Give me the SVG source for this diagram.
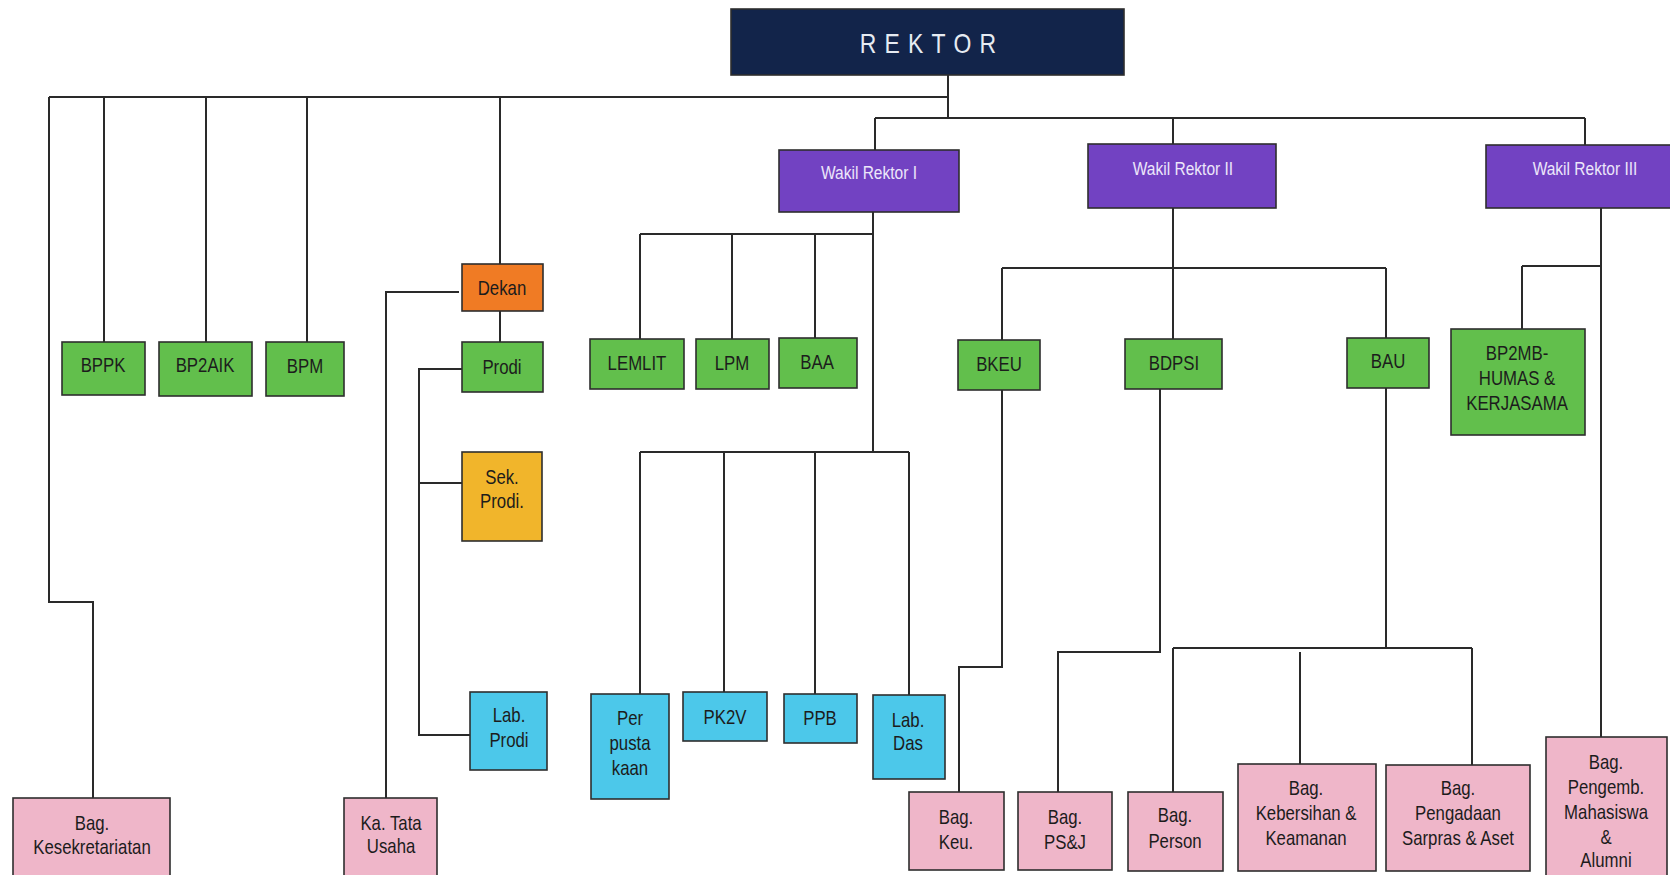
<svg xmlns="http://www.w3.org/2000/svg" width="1670" height="875" viewBox="0 0 1670 875">
<style>
.bx{stroke:#2e2e2e;stroke-width:1.6}
.navy{fill:#12244a}
.pur{fill:#7242c2}
.grn{fill:#62bf4c}
.org{fill:#f07b24}
.yel{fill:#f1b52b}
.cyn{fill:#4cc8ea}
.pnk{fill:#efb6c9}
.t,.tw{font-family:"Liberation Sans",Arial,sans-serif;text-anchor:middle;transform-box:fill-box;transform-origin:center;transform:scaleX(0.84)}
.t{font-size:20px;fill:#1c1c1c}
.tw{font-size:18.5px;fill:#ece6fa}
.cn{fill:none;stroke:#2a2a2a;stroke-width:2}
</style>
<rect width="1670" height="875" fill="#ffffff"/>
<g id="connectors" class="cn">
<path d="M948,75 V118"/>
<path d="M49,97 H948"/>
<path d="M104,97 V342 M206,97 V342 M307,97 V342"/>
<path d="M500,97 V264"/>
<path d="M49,97 V602 H93 V798"/>
<path d="M875,118 H1585 M875,118 V150 M1173,118 V144 M1585,118 V145"/>
<path d="M873,212 V452 M640,234 H873 M640,234 V339 M732,234 V339 M815,234 V338"/>
<path d="M640,452 H909 M640,452 V694 M724,452 V692 M815,452 V694 M909,452 V695"/>
<path d="M500,311 V342"/>
<path d="M459,292 H386 V798"/>
<path d="M462,369 H419 V735 H470 M419,483 H462"/>
<path d="M1173,208 V339 M1002,268 H1386 M1002,268 V340 M1386,268 V338"/>
<path d="M1002,390 V667 H959 V792"/>
<path d="M1160,389 V652 H1058 V792"/>
<path d="M1386,388 V648 M1173,648 H1472 M1173,648 V792 M1300,652 V764 M1472,648 V765"/>
<path d="M1601,208 V737 M1522,266 H1601 M1522,266 V329"/>
</g>
<g id="rektor"><rect class="bx navy" x="731" y="9" width="393" height="66"/><text transform="translate(932,53) scale(0.82,1)" x="0" y="0" text-anchor="middle" font-family="Liberation Sans,Arial,sans-serif" font-size="28" letter-spacing="10" fill="#e6ebf2">REKTOR</text></g>
<g id="wr1"><rect class="bx pur" x="779" y="150" width="180" height="62"/><text class="tw" x="869" y="179">Wakil Rektor I</text></g>
<g id="wr2"><rect class="bx pur" x="1088" y="144" width="188" height="64"/><text class="tw" x="1183" y="175">Wakil Rektor II</text></g>
<g id="wr3"><rect class="bx pur" x="1486" y="145" width="190" height="63"/><text class="tw" x="1585" y="175">Wakil Rektor III</text></g>
<g id="bppk"><rect class="bx grn" x="62" y="342" width="83" height="53"/><text class="t" x="103" y="372">BPPK</text></g>
<g id="bp2aik"><rect class="bx grn" x="159" y="342" width="93" height="54"/><text class="t" x="205" y="372">BP2AIK</text></g>
<g id="bpm"><rect class="bx grn" x="266" y="342" width="78" height="54"/><text class="t" x="305" y="373">BPM</text></g>
<g id="dekan"><rect class="bx org" x="462" y="264" width="81" height="47"/><text class="t" x="502" y="295">Dekan</text></g>
<g id="prodi"><rect class="bx grn" x="462" y="342" width="81" height="50"/><text class="t" x="502" y="374">Prodi</text></g>
<g id="sekprodi"><rect class="bx yel" x="462" y="452" width="80" height="89"/><text class="t" x="502" y="484">Sek.</text><text class="t" x="502" y="508">Prodi.</text></g>
<g id="labprodi"><rect class="bx cyn" x="470" y="692" width="77" height="78"/><text class="t" x="509" y="722">Lab.</text><text class="t" x="509" y="747">Prodi</text></g>
<g id="kesekretariatan"><rect class="bx pnk" x="13" y="798" width="157" height="80"/><text class="t" x="92" y="830">Bag.</text><text class="t" x="92" y="854">Kesekretariatan</text></g>
<g id="tatausaha"><rect class="bx pnk" x="344" y="798" width="93" height="80"/><text class="t" x="391" y="830">Ka. Tata</text><text class="t" x="391" y="853">Usaha</text></g>
<g id="lemlit"><rect class="bx grn" x="590" y="339" width="94" height="50"/><text class="t" x="637" y="370">LEMLIT</text></g>
<g id="lpm"><rect class="bx grn" x="696" y="339" width="73" height="50"/><text class="t" x="732" y="370">LPM</text></g>
<g id="baa"><rect class="bx grn" x="779" y="338" width="78" height="50"/><text class="t" x="817" y="369">BAA</text></g>
<g id="bkeu"><rect class="bx grn" x="958" y="340" width="82" height="50"/><text class="t" x="999" y="371">BKEU</text></g>
<g id="bdpsi"><rect class="bx grn" x="1125" y="339" width="97" height="50"/><text class="t" x="1174" y="370">BDPSI</text></g>
<g id="bau"><rect class="bx grn" x="1347" y="338" width="82" height="50"/><text class="t" x="1388" y="368">BAU</text></g>
<g id="bp2mb"><rect class="bx grn" x="1451" y="329" width="134" height="106"/><text class="t" x="1517" y="360">BP2MB-</text><text class="t" x="1517" y="385">HUMAS &amp;</text><text class="t" x="1517" y="410">KERJASAMA</text></g>
<g id="perpustakaan"><rect class="bx cyn" x="591" y="694" width="78" height="105"/><text class="t" x="630" y="725">Per</text><text class="t" x="630" y="750">pusta</text><text class="t" x="630" y="775">kaan</text></g>
<g id="pk2v"><rect class="bx cyn" x="683" y="692" width="84" height="49"/><text class="t" x="725" y="724">PK2V</text></g>
<g id="ppb"><rect class="bx cyn" x="784" y="694" width="73" height="49"/><text class="t" x="820" y="725">PPB</text></g>
<g id="labdas"><rect class="bx cyn" x="873" y="695" width="72" height="84"/><text class="t" x="908" y="727">Lab.</text><text class="t" x="908" y="750">Das</text></g>
<g id="bagkeu"><rect class="bx pnk" x="909" y="792" width="95" height="78"/><text class="t" x="956" y="824">Bag.</text><text class="t" x="956" y="849">Keu.</text></g>
<g id="bagpsj"><rect class="bx pnk" x="1018" y="792" width="94" height="78"/><text class="t" x="1065" y="824">Bag.</text><text class="t" x="1065" y="849">PS&amp;J</text></g>
<g id="bagperson"><rect class="bx pnk" x="1128" y="792" width="95" height="79"/><text class="t" x="1175" y="822">Bag.</text><text class="t" x="1175" y="848">Person</text></g>
<g id="bagkebersihan"><rect class="bx pnk" x="1238" y="764" width="138" height="107"/><text class="t" x="1306" y="795">Bag.</text><text class="t" x="1306" y="820">Kebersihan &amp;</text><text class="t" x="1306" y="845">Keamanan</text></g>
<g id="bagpengadaan"><rect class="bx pnk" x="1386" y="765" width="144" height="106"/><text class="t" x="1458" y="795">Bag.</text><text class="t" x="1458" y="820">Pengadaan</text><text class="t" x="1458" y="845">Sarpras &amp; Aset</text></g>
<g id="bagpengemb"><rect class="bx pnk" x="1546" y="737" width="121" height="145"/><text class="t" x="1606" y="769">Bag.</text><text class="t" x="1606" y="794">Pengemb.</text><text class="t" x="1606" y="819">Mahasiswa</text><text class="t" x="1606" y="844">&amp;</text><text class="t" x="1606" y="867">Alumni</text></g>
</svg>
